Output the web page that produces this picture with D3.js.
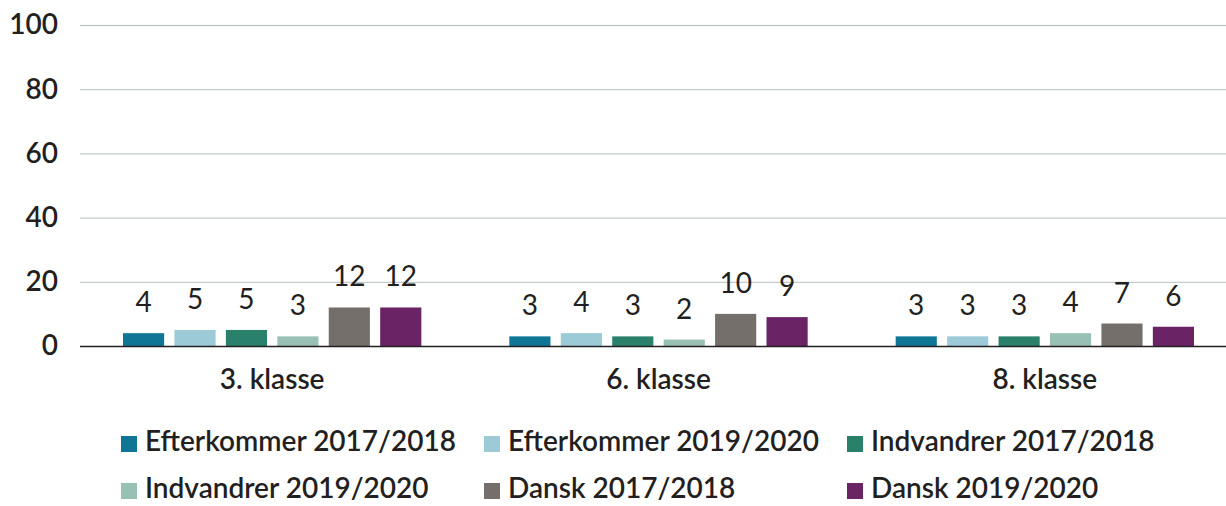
<!DOCTYPE html>
<html>
<head>
<meta charset="utf-8">
<script src="https://cdn.jsdelivr.net/npm/d3@7"></script>
<style>
  body { margin: 0; background: #fff; }
  text { font-family: Lato, "Open Sans", sans-serif; fill: #231f20; }
</style>
</head>
<body>
<div class="chart"></div>
<script>
// chart data
let categories = ['3. klasse', '6. klasse', '8. klasse'];
let seriesNames = [
  'Efterkommer 2017/2018',
  'Efterkommer 2019/2020',
  'Indvandrer 2017/2018',
  'Indvandrer 2019/2020',
  'Dansk 2017/2018',
  'Dansk 2019/2020'
];
let efterkommer1718 = [4, 3, 3];
let efterkommer1920 = [5, 4, 3];
let indvandrer1718 = [5, 3, 3];
let indvandrer1920 = [3, 2, 4];
let dansk1718 = [12, 10, 7];
let dansk1920 = [12, 9, 6];
let yTicks = [0, 20, 40, 60, 80, 100];
let colors = ['#0f7795', '#9ccad6', '#2a816b', '#98c0b4', '#746f6a', '#6a2466'];

let seriesValues = [efterkommer1718, efterkommer1920, indvandrer1718, indvandrer1920, dansk1718, dansk1920];

function drawBarChart(d3) {
  let width = 1226;
  let height = 506;

  let svg = d3.select('.chart')
    .append('svg')
    .attr('width', width)
    .attr('height', height);

  // scales
  let xScale = d3.scaleBand()
    .domain(categories)
    .range([79, 1238])
    .padding(0);

  let xInner = d3.scaleBand()
    .domain(d3.range(seriesNames.length))
    .range([44, xScale.bandwidth() - 44])
    .paddingInner(0.2)
    .paddingOuter(0);

  let yScale = d3.scaleLinear()
    .domain([0, 100])
    .range([346, 25]);

  // gridlines
  svg.append('g')
    .selectAll('line')
    .data(yTicks.filter(function(t) { return t > 0; }))
    .enter().append('line')
    .attr('x1', 80)
    .attr('x2', width)
    .attr('y1', function(d) { return yScale(d) + 0.5; })
    .attr('y2', function(d) { return yScale(d) + 0.5; })
    .attr('stroke', '#b5bec2')
    .attr('stroke-width', 1);

  // y axis labels
  let yAxis = svg.append('g')
    .attr('transform', 'translate(58, 0)')
    .call(d3.axisLeft(yScale).tickValues(yTicks).tickSize(0).tickPadding(0));
  yAxis.select('.domain').remove();
  yAxis.selectAll('text')
    .attr('font-size', 28)
    .attr('font-weight', 600)
    .attr('fill', '#231f20')
    .style('font-family', 'Lato, sans-serif');

  // bars
  let groups = svg.append('g')
    .selectAll('g')
    .data(categories)
    .enter().append('g')
    .attr('transform', function(d) { return 'translate(' + xScale(d) + ',0)'; });

  groups.each(function(cat, ci) {
    let g = d3.select(this);
    let rows = seriesValues.map(function(vals, si) {
      return { s: si, v: vals[ci] };
    });

    g.selectAll('rect')
      .data(rows)
      .enter().append('rect')
      .attr('x', function(d) { return xInner(d.s); })
      .attr('y', function(d) { return yScale(d.v); })
      .attr('width', xInner.bandwidth())
      .attr('height', function(d) { return yScale(0) - yScale(d.v); })
      .attr('fill', function(d) { return colors[d.s]; });

    g.selectAll('text.val')
      .data(rows)
      .enter().append('text')
      .attr('class', 'val')
      .attr('x', function(d) { return xInner(d.s) + xInner.bandwidth() / 2; })
      .attr('y', function(d) { return yScale(d.v) - 21; })
      .attr('text-anchor', 'middle')
      .attr('font-size', 28)
      .text(function(d) { return d.v; });
  });

  // baseline
  svg.append('line')
    .attr('x1', 80)
    .attr('x2', width)
    .attr('y1', yScale(0) + 0.5)
    .attr('y2', yScale(0) + 0.5)
    .attr('stroke', '#231f20')
    .attr('stroke-width', 1.5);

  // category labels
  svg.append('g')
    .selectAll('text')
    .data(categories)
    .enter().append('text')
    .attr('x', function(d) { return xScale(d) + xScale.bandwidth() / 2; })
    .attr('y', 389)
    .attr('text-anchor', 'middle')
    .attr('font-size', 28)
    .attr('font-weight', 600)
    .text(function(d) { return d; });

  // legend
  let legend = svg.append('g')
    .selectAll('g')
    .data(seriesNames)
    .enter().append('g')
    .attr('transform', function(d, i) {
      return 'translate(' + (121 + (i % 3) * 363) + ',' + (436 + Math.floor(i / 3) * 47) + ')';
    });

  legend.append('rect')
    .attr('width', 16)
    .attr('height', 16)
    .attr('fill', function(d, i) { return colors[i]; });

  legend.append('text')
    .attr('x', 24)
    .attr('y', 15)
    .attr('font-size', 28)
    .attr('font-weight', 600)
    .text(function(d) { return d; });
}

drawBarChart(d3);
</script>
</body>
</html>
